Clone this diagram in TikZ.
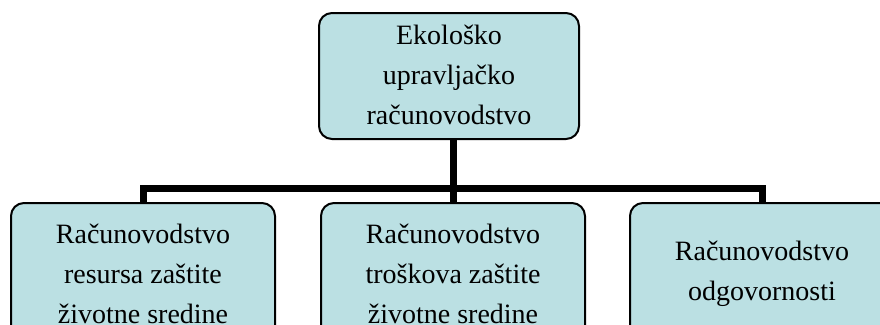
\documentclass[tikz,border=0pt]{standalone}
\usepackage{fontspec}
\setmainfont{Liberation Serif}
\definecolor{boxfill}{HTML}{BBE0E3}
\tikzset{
  box/.style={draw=black, line width=2pt, fill=boxfill, rounded corners=13pt,
    minimum width=264pt, align=center, inner sep=0pt,
    font=\fontsize{28}{40}\selectfont},
  conn/.style={draw=black, line width=7pt}
}
\begin{document}
\begin{tikzpicture}[x=1pt,y=-1pt]
\useasboundingbox (0,0) rectangle (880,324);
\clip (0,0) rectangle (880,324);
\fill[white] (0,0) rectangle (880,324);
\node[box, minimum width=260pt, minimum height=126pt] (top) at (449,76)
  {\raisebox{-4pt}{\setlength{\tabcolsep}{0pt}\begin{tabular}{c}Ekološko\\upravljačko\\računovodstvo\end{tabular}}};
\node[box, minimum height=142pt] (left) at (143,274) {Računovodstvo\\resursa zaštite\\životne sredine};
\node[box, minimum height=142pt] (mid) at (453,274) {Računovodstvo\\troškova zaštite\\životne sredine};
\node[box, minimum height=142pt] (right) at (762,274) {Računovodstvo\\odgovornosti};
\coordinate (bus) at (453,188);
\draw[conn] (top.south -| bus) -- (bus);
\draw[conn] (left.north) |- (bus) -| (right.north);
\draw[conn] (mid.north) -- (mid.north |- bus);
\end{tikzpicture}
\end{document}
